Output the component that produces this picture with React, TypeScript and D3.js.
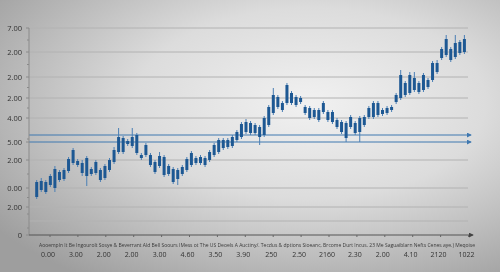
import React from "react";
import * as d3 from "d3";

const openV = [3.8,4.5,5.3,5.0,4.7,5.5,5.6,6.4,7.2,7.4, 7.2,5.9,6.6,6.2,6.5,5.7,6.5,7.3,8.3,9.7, 9.1,8.9,10.0,8.0,8.0,8.0,7.3,6.9,7.8,6.9, 6.6,5.6,6.1,6.5,7.0,7.7,7.2,7.7,7.5,8.0, 8.3,8.7,8.8,8.9,9.5,9.8,10.3,11.2,11.0,10.8, 10.0,11.0,12.2,12.8,13.2,13.2,14.2,13.8,13.3,12.8, 12.7,12.5,12.5,12.3,12.3,12.3,11.5,11.3,11.2,10.8, 11.2,10.3,11.0,11.8,11.8,12.0,12.5,12.2,12.5,13.3, 13.7,15.2,14.2,14.5,15.2,14.5,15.5,15.5,16.3,17.7, 18.0,18.6,17.8,18.2,18.3];
const closeV = [5.3,5.4,4.3,5.9,6.6,6.3,6.5,7.6,8.5,7.0, 6.2,7.7,6.1,7.3,5.5,6.9,7.5,8.5,9.8,8.3, 9.4,9.8,8.2,7.7,9.0,7.0,6.3,7.9,6.0,6.1, 5.3,6.5,6.8,7.6,8.2,7.2,7.8,7.0,8.3,9.0, 9.5,9.5,9.5,9.8,10.3,11.1,11.3,10.2,10.2,9.8, 11.7,12.8,14.0,13.8,12.5,15.0,13.2,13.0,13.7,12.2, 11.7,11.8,11.5,13.2,11.5,11.3,10.8,10.3,9.7,11.8, 10.2,11.7,11.8,12.7,13.2,13.2,12.1,12.7,12.8,14.0, 16.0,14.0,16.0,15.7,14.3,16.0,14.8,17.2,17.2,18.6, 19.6,17.5,19.2,19.3,19.6];
const highV = [5.5,5.7,5.5,6.1,6.9,6.5,6.7,7.8,8.7,7.6, 7.5,7.9,6.8,7.5,6.7,7.1,7.7,8.8,10.7,9.9, 9.6,10.7,10.2,8.2,9.2,8.2,7.5,8.3,8.0,7.1, 6.8,6.7,7.0,7.8,8.4,7.9,8.0,7.9,8.5,9.2, 9.7,9.7,9.7,10.0,10.5,11.3,11.6,11.4,11.2,11.0, 11.9,13.0,14.7,14.0,13.4,15.2,14.4,14.0,13.9,13.0, 12.9,12.7,12.7,13.4,12.5,12.5,11.7,11.5,11.4,12.0, 11.4,11.9,12.0,12.9,13.4,13.4,12.7,12.9,13.0,14.2, 16.5,15.4,16.3,16.3,15.4,16.2,15.7,17.4,17.5,18.8, 20.0,18.8,20.0,19.5,20.0];
const lowV = [3.6,4.3,4.1,4.8,4.3,5.3,5.4,6.2,7.0,6.8, 5.9,4.9,5.9,6.0,5.3,5.5,6.3,7.1,8.1,8.1, 8.9,8.7,8.0,7.5,7.8,6.8,6.1,6.7,5.8,5.9, 5.1,5.0,5.9,6.3,6.8,7.0,7.0,6.8,7.3,7.8, 8.1,8.5,8.6,8.7,9.3,9.6,10.1,10.0,10.0,9.0, 9.8,10.8,12.0,12.6,12.3,13.0,13.0,12.8,13.1,12.0, 11.5,11.6,11.3,12.1,11.3,11.1,10.6,10.1,9.3,10.6, 10.0,9.3,10.8,11.6,11.6,11.8,11.9,12.0,12.3,13.1, 13.5,13.8,14.0,14.3,14.1,14.3,14.6,15.3,16.1,17.5, 17.8,17.3,17.6,18.0,18.1];

const gridValues = [20.7, 18.3, 15.8, 13.7, 11.7, 7.5, 4.7, 2.8, 1.4];
const yTickValues = [20.7, 18.3, 15.8, 13.7, 11.7, 9.3, 7.5, 4.7, 2.8, 0];
const yTickLabels = ["7.00", "2.00", "2.00", "2.00", "4.00", "5.00", "2.00", "0.00", "2.00", "0"];
const refLines = [10.0, 9.3];
const xLabels = ["0.00","3.00","2.00","2.00","3.00","4.60","3.50","3.90","250","2.50","2160","2.30","2.00","4.10","2120","1022"];
const categoryText = "Aooempln It Be Ingourolt Sosye & Beverrant Ald Bell Soours IMess ot The US Deoels A Auctiny/. Tecdus & dptions Sioeanc, Brcome Durt Incus. 23 Me Saguaiblarn Nefts Cenes aye.) Meqoise";

export default function App() {
  const W = 500, H = 272;
  const left = 29, right = 468, top = 28, bottom = 235;
  const y = d3.scaleLinear().domain([0, 20.7]).range([bottom, top]);
  const idx = d3.range(openV.length);
  const x = d3.scalePoint<number>().domain(idx).range([36.7, 464.4]);
  const xl = d3.scalePoint<string>().domain(xLabels.map((_, i) => String(i))).range([48, 466.5]);
  const minor: number[] = [];
  const allG = [...gridValues, 0].sort((a, b) => b - a);
  for (let i = 0; i < allG.length - 1; i++) minor.push((allG[i] + allG[i + 1]) / 2);
  const font = "'Open Sans', 'DejaVu Sans', sans-serif";
  const candle = "#1d5893";
  return (
    <svg width={W} height={H} style={{ position: "fixed", left: 0, top: 0 }} xmlns="http://www.w3.org/2000/svg">
      <defs>
        <radialGradient id="bg" cx="0.62" cy="0.38" r="0.78">
          <stop offset="0" stopColor="#f1f1f1" />
          <stop offset="0.45" stopColor="#dcdcdc" />
          <stop offset="1" stopColor="#9e9e9e" />
        </radialGradient>
        <marker id="arrB" viewBox="0 0 6 6" refX="5" refY="3" markerWidth="5" markerHeight="5" orient="auto">
          <path d="M0,0 L6,3 L0,6 z" fill="#3f78b0" />
        </marker>
        <marker id="arrK" viewBox="0 0 6 6" refX="5" refY="3" markerWidth="5" markerHeight="5" orient="auto">
          <path d="M0,0 L6,3 L0,6 z" fill="#444" />
        </marker>
      </defs>
      <rect x={0} y={0} width={W} height={H} fill="url(#bg)" />
      {gridValues.map((v, i) => (
        <line key={"g" + i} x1={left} x2={right} y1={y(v)} y2={y(v)} stroke="#b2b2b2" strokeWidth={1} />
      ))}
      {refLines.map((v, i) => (
        <line key={"r" + i} x1={left} x2={471} y1={y(v)} y2={y(v)} stroke="#3f78b0" strokeWidth={1} markerEnd="url(#arrB)" />
      ))}
      <line x1={left} x2={left} y1={top} y2={bottom} stroke="#8a8a8a" strokeWidth={1} />
      {minor.map((v, i) => (
        <line key={"m" + i} x1={left - 2} x2={left} y1={y(v)} y2={y(v)} stroke="#8a8a8a" strokeWidth={1} />
      ))}
      {yTickValues.map((v, i) => (
        <g key={"yt" + i}>
          <line x1={left - 3} x2={left} y1={y(v)} y2={y(v)} stroke="#8a8a8a" />
          <text x={22} y={y(v)} dy="0.35em" textAnchor="end" fontSize={7.5} fill="#333" fontFamily={font}>{yTickLabels[i]}</text>
        </g>
      ))}
      <line x1={left} x2={473} y1={bottom} y2={bottom} stroke="#555" strokeWidth={1} markerEnd="url(#arrK)" />
      {xLabels.map((lab, i) => {
        const px = xl(String(i)) as number;
        return (
          <g key={"xl" + i}>
            <line x1={px + 2} x2={px + 2} y1={bottom} y2={bottom + 2} stroke="#666" />
            <text x={px} y={256.5} textAnchor="middle" fontSize={7} fill="#333" fontFamily={font}>{lab}</text>
          </g>
        );
      })}
      <text x={39} y={247} fontSize={4.6} fill="#3a3a3a" fontFamily={font} textLength={436} lengthAdjust="spacingAndGlyphs">{categoryText}</text>
      {idx.map((i) => {
        const cx = x(i) as number;
        const t = y(Math.max(openV[i], closeV[i]));
        const b = y(Math.min(openV[i], closeV[i]));
        return (
          <g key={"c" + i}>
            <line x1={cx} x2={cx} y1={y(highV[i])} y2={y(lowV[i])} stroke="#4a7fb5" strokeWidth={1} />
            <rect x={cx - 1.5} y={t} width={3} height={Math.max(1.5, b - t)} fill={candle} />
          </g>
        );
      })}
    </svg>
  );
}
